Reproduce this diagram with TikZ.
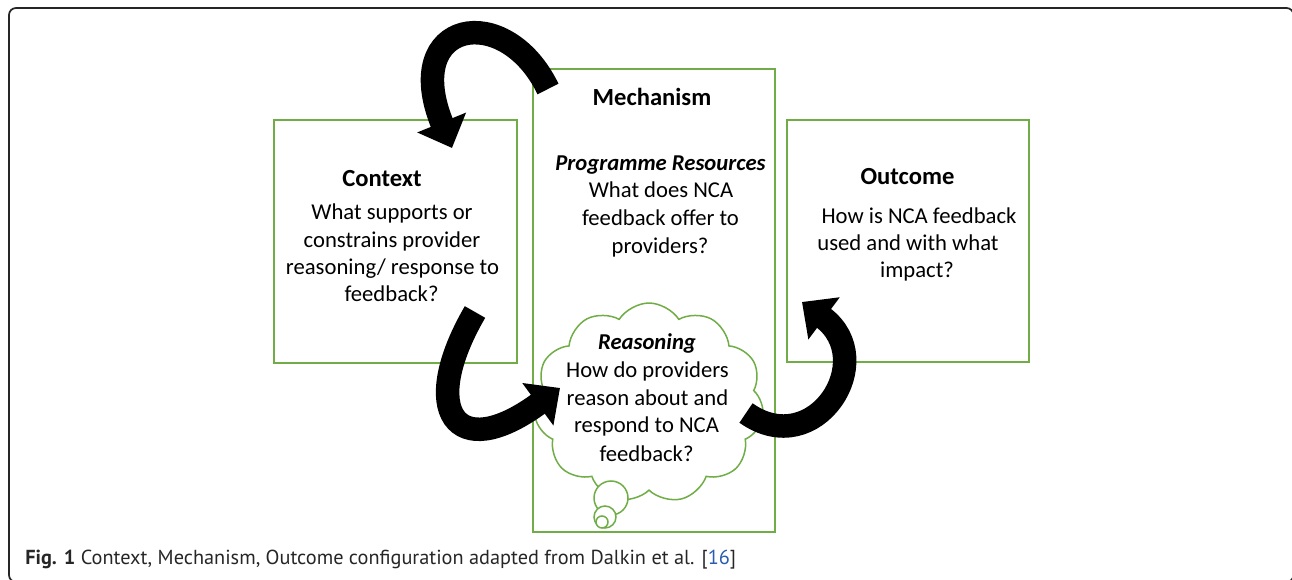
\documentclass[tikz,border=0pt]{standalone}
\usepackage{fontspec}
\setmainfont{Carlito}
\newfontfamily\capfont{PT Sans}
\usetikzlibrary{shapes.symbols,arrows.meta}
\definecolor{boxgreen}{HTML}{70AD47}
\definecolor{linkblue}{HTML}{2A5DB0}
\begin{document}
\begin{tikzpicture}[x=0.02cm,y=-0.02cm,
  box/.style={draw=boxgreen, line width=0.04cm, inner sep=0pt, outer sep=0pt},
  txt/.style={anchor=base, inner sep=0pt, font=\fontsize{12.9}{15.6}\selectfont},
  head/.style={txt, font=\fontsize{14}{16}\selectfont\bfseries},
  headit/.style={txt, font=\fontsize{12.9}{15.6}\selectfont\bfseries\itshape},
  bubble/.style={circle, draw=boxgreen, line width=0.03cm, inner sep=0pt, fill=white},
  bigarrow/.style={line width=0.47cm, -{Triangle[length=0.55cm,width=1.02cm]}},
]
\useasboundingbox (0,0) rectangle (1292,580);
\begin{scope}
\clip (0,0) rectangle (1292,580);
\draw[line width=0.035cm, rounded corners=0.14cm, black!85] (9,8) rectangle (1293.5,582);
\end{scope}

% boxes
\node[box, minimum width=4.86cm, minimum height=4.86cm] (context) at (395.5,241.5) {};
\node[box, minimum width=4.84cm, minimum height=9.26cm] (mechanism) at (654,300.5) {};
\node[box, minimum width=4.84cm, minimum height=4.84cm] (outcome) at (908,241) {};

% cloud
\node[cloud, draw=boxgreen, fill=white, line width=0.03cm, cloud puffs=11, cloud puff arc=115,
      aspect=1.0, minimum width=4.6cm, minimum height=4.0cm, inner sep=0pt] (cloud) at (649,403) {};
\node[bubble, minimum size=0.68cm] (b1) at (611,498) {};
\node[bubble, minimum size=0.44cm] (b2) at (605,517) {};
\node[bubble, minimum size=0.24cm] (b3) at (602,522) {};

% mechanism text
\node[head] (mh) at (652,106) {Mechanism};
\node[headit] (pr) at (660.5,171) {Programme Resources};
\node[txt] (m1) at (661,198) {What does NCA};
\node[txt] (m2) at (660.5,226) {feedback offer to};
\node[txt] (m3) at (660,253.5) {providers?};

% context text
\node[head] (ch) at (382,187) {Context};
\node[txt] (c1) at (392,220) {What supports or};
\node[txt] (c2) at (392,247.5) {constrains provider};
\node[txt] (c3) at (392.5,275) {reasoning/ response to};
\node[txt] (c4) at (391.5,302) {feedback?};

% outcome text
\node[head] (oh) at (907.5,185) {Outcome};
\node[txt] (o1) at (919,224) {How is NCA feedback};
\node[txt] (o2) at (908,251) {used and with what};
\node[txt] (o3) at (917,278) {impact?};

% reasoning text
\node[headit] (rh) at (647,350) {Reasoning};
\node[txt] (r1) at (647.5,378) {How do providers};
\node[txt] (r2) at (647.5,406) {reason about and};
\node[txt] (r3) at (646.5,433) {respond to NCA};
\node[txt] (r4) at (646.5,461.5) {feedback?};

% arrows
\coordinate (a1s) at (548,89);
\coordinate (a1e) at (452,148);
\draw[bigarrow] (a1s) .. controls (505,0) and (400,20) .. (a1e);

\coordinate (a2s) at (475,312);
\coordinate (a2e) at (560,388);
\draw[bigarrow] (a2s) .. controls (418,410) and (455,465) .. (a2e);

\coordinate (a3s) at (746,413);
\coordinate (a3e) at (802,302);
\draw[bigarrow] (a3s) .. controls (815,462) and (880,360) .. (a3e);

% caption
\node[anchor=base west, inner sep=0pt, font=\capfont\fontsize{11.55}{13}\selectfont, text=black!85] (cap) at (25,565)
  {\textbf{Fig. 1} Context, Mechanism, Outcome configuration adapted from Dalkin et al. [\textcolor{linkblue}{16}]};
\end{tikzpicture}
\end{document}
